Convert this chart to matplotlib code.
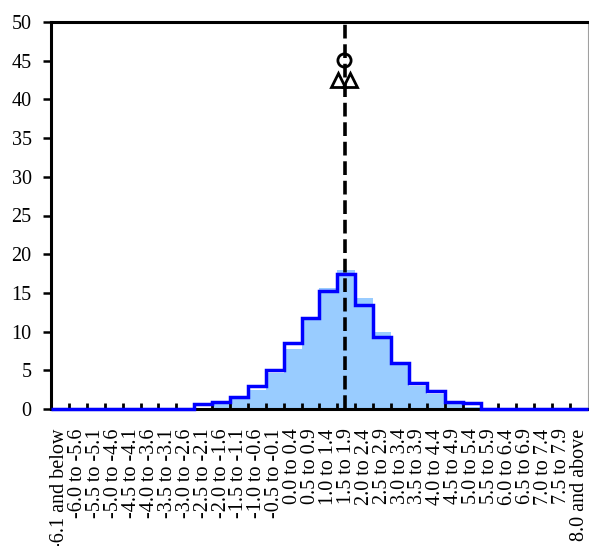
import numpy as np
import matplotlib
matplotlib.use("Agg")
import matplotlib.pyplot as plt

plt.rcParams["font.family"] = ["Liberation Serif", "DejaVu Serif"]

# ── Data ──────────────────────────────────────────────────────────────────────
categories = (["-6.1 and below"]
              + [f"{lo:.1f} to {lo + 0.4:.1f}" for lo in np.arange(-6.0, 7.51, 0.5)]
              + ["8.0 and above"])
categories = [c.replace("-0.0", "0.0") for c in categories]
categories[12] = "-0.5 to -0.1"

# light blue bars (%)
bar_values = [0, 0, 0, 0, 0, 0, 0, 0, 0.1, 0.65, 1.3, 2.5, 4.6, 7.8, 11.8,
              15.6, 18.0, 14.4, 9.9, 6.1, 3.0, 2.0, 0.6, 0.3, 0, 0, 0, 0, 0, 0]
# blue step outline (%)
line_values = [0, 0, 0, 0, 0, 0, 0, 0, 0.6, 0.95, 1.6, 3.0, 5.0, 8.5, 11.7,
               15.2, 17.4, 13.4, 9.3, 5.9, 3.3, 2.3, 0.95, 0.75, 0, 0, 0, 0, 0, 0]

# markers and reference line, in category units
vline_x = 15.92
circle_x, circle_y = [15.87], [45.1]
triangle_x, triangle_y = [15.55, 16.2], [42.5, 42.5]

yticks = list(range(0, 51, 5))

# ── Plot ──────────────────────────────────────────────────────────────────────
fig = plt.figure(figsize=(5.89, 5.46), dpi=100)
ax = fig.add_axes([51 / 589, 137 / 546, 537 / 589, 387 / 546])

n = len(categories)
x = np.arange(n)
edges = np.arange(n + 1) - 0.5

ax.bar(x, bar_values, width=1.0, color="#99CCFF", linewidth=0, zorder=1)
ax.stairs(line_values, edges, baseline=None, color="#0000FF", linewidth=2.5,
          zorder=4, clip_on=False)
ax.axvline(vline_x, color="black", linewidth=2.6, linestyle=(0, (3.8, 1.6)),
           zorder=5)
ax.plot(circle_x, circle_y, "o", ms=9.5, mfc="none", mec="black", mew=2,
        zorder=6)
ax.plot(triangle_x, triangle_y, "^", ms=9.5, mfc="none", mec="black", mew=2,
        zorder=6)

ax.set_xlim(-0.5, n - 0.5)
ax.set_ylim(0, 50)
ax.set_yticks(yticks)
ax.set_yticklabels([str(v) for v in yticks], fontsize=14.5)
ax.tick_params(axis="y", direction="out", length=6, width=1.8, pad=8)

# boundaries: short inward ticks, centres: labels only
ax.set_xticks(edges[1:-1])
ax.set_xticklabels([])
ax.tick_params(axis="x", which="major", direction="in", length=4.3, width=2)
ax.set_xticks(x, minor=True)
ax.set_xticklabels(categories, minor=True, rotation=90, fontsize=14.5,
                   va="top", ha="center")
ax.tick_params(axis="x", which="minor", length=0, pad=14)

for side in ("left", "bottom", "top"):
    ax.spines[side].set_linewidth(2.2)
    ax.spines[side].set_color("black")
ax.spines["right"].set_linewidth(0.8)
ax.spines["right"].set_color("#A0A0A0")

fig.savefig("out.png", dpi=100)
